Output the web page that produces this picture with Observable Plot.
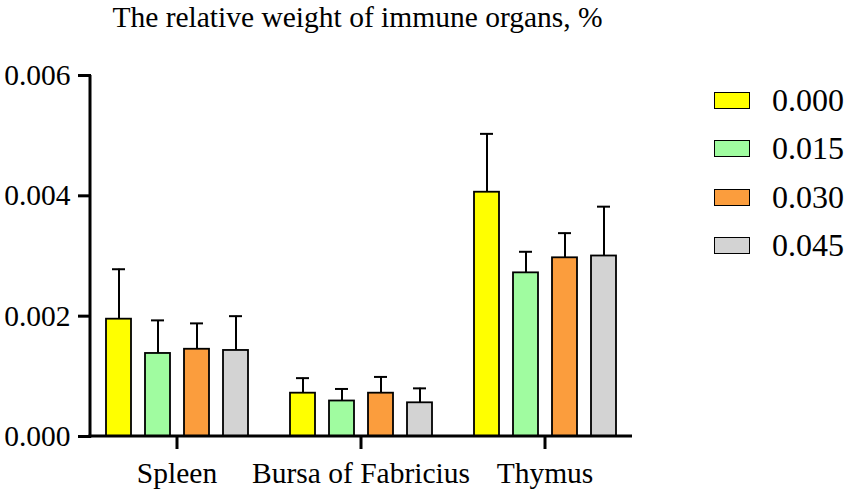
<!DOCTYPE html>
<html>
<head>
<meta charset="utf-8">
<script src="https://cdn.jsdelivr.net/npm/d3@7"></script>
<script src="https://cdn.jsdelivr.net/npm/@observablehq/plot@0.6"></script>
<style>
  html, body { margin: 0; padding: 0; background: #fff; }
  #wrap { position: relative; width: 851px; height: 495px; font-family: "Liberation Serif", "Times New Roman", serif; }
  #title { width: 715px; height: 40px; text-align: center; font-size: 29.5px; line-height: 34px; color: #000; }
  #legend { position: absolute; left: 714px; top: 0; }
  .row { position: absolute; left: 0; height: 48px; display: flex; align-items: center; white-space: nowrap; }
  .sw { width: 34px; height: 15px; border: 1.5px solid #000; }
  .lab { margin-left: 22px; font-size: 32px; }
</style>
</head>
<body>
<div id="wrap">
  <div id="title">The relative weight of immune organs, %</div>
  <div id="chart"></div>
  <div id="legend"></div>
</div>
<script>
const organs = ["Spleen", "Bursa of Fabricius", "Thymus"];
const doses = ["0.000", "0.015", "0.030", "0.045"];
const colors = ["#ffff00", "#a0fca0", "#fb9d3d", "#d3d3d3"];
const yTicks = [0, 0.002, 0.004, 0.006];

const spleenMean = [0.00195, 0.00138, 0.00145, 0.00143];
const spleenSD   = [0.00083, 0.00055, 0.00043, 0.00057];
const bursaMean  = [0.00072, 0.00059, 0.00072, 0.00056];
const bursaSD    = [0.00025, 0.00020, 0.00027, 0.00024];
const thymusMean = [0.00406, 0.00272, 0.00297, 0.00300];
const thymusSD   = [0.00097, 0.00035, 0.00041, 0.00082];

const means = [spleenMean, bursaMean, thymusMean];
const sds = [spleenSD, bursaSD, thymusSD];
const data = [];
organs.forEach((o, i) => doses.forEach((d, j) => {
  data.push({organ: o, dose: d, mean: means[i][j], sd: sds[i][j], top: means[i][j] + sds[i][j]});
}));

const chart = Plot.plot({
  width: 851,
  height: 455,
  marginLeft: 90,
  marginRight: 219,
  marginTop: 35,
  marginBottom: 59,
  style: {fontFamily: "'Liberation Serif', 'Times New Roman', serif", color: "#000", background: "#fff", overflow: "visible"},
  fx: {domain: organs, paddingInner: 0.07, paddingOuter: 0, label: null},
  x: {domain: doses, paddingInner: 0.36, paddingOuter: 0.368, axis: null},
  y: {domain: [0, 0.006], label: null},
  color: {domain: doses, range: colors},
  marks: [
    Plot.ruleX(data, {fx: "organ", x: "dose", y1: "mean", y2: "top", stroke: "#000", strokeWidth: 2}),
    Plot.tickY(data, {fx: "organ", x: "dose", y: "top", stroke: "#000", strokeWidth: 2, insetLeft: 6, insetRight: 6}),
    Plot.barY(data, {fx: "organ", x: "dose", y: "mean", fill: "dose", stroke: "#000", strokeWidth: 1.8}),
    Plot.axisY({ticks: yTicks, tickFormat: d3.format(".3f"), tickSize: 13, tickPadding: 8, strokeWidth: 3, fontSize: 29.5, label: null}),
    Plot.axisFx({anchor: "bottom", tickSize: 13, tickPadding: 13, strokeWidth: 3, fontSize: 29.5, label: null})
  ]
});
document.getElementById("chart").appendChild(chart);

// axis lines drawn through the plot's own scales
const ys = chart.scale("y");
const fxs = chart.scale("fx");
const svg = d3.select(chart);
const y0 = ys.apply(0), yTop = ys.apply(0.006);
const xL = fxs.range[0], xR = fxs.range[1];
svg.append("line").attr("x1", xL).attr("x2", xL).attr("y1", yTop).attr("y2", y0 + 1.5)
  .attr("stroke", "#000").attr("stroke-width", 3);
svg.append("line").attr("x1", xL - 1.5).attr("x2", xR).attr("y1", y0).attr("y2", y0)
  .attr("stroke", "#000").attr("stroke-width", 3);

// legend
const legend = d3.select("#legend");
const rowCenters = [100, 148.5, 197, 245];
doses.forEach((d, i) => {
  const r = legend.append("div").attr("class", "row").style("top", (rowCenters[i] - 24) + "px");
  r.append("div").attr("class", "sw").style("background", colors[i]);
  r.append("div").attr("class", "lab").text(d);
});
</script>
</body>
</html>
